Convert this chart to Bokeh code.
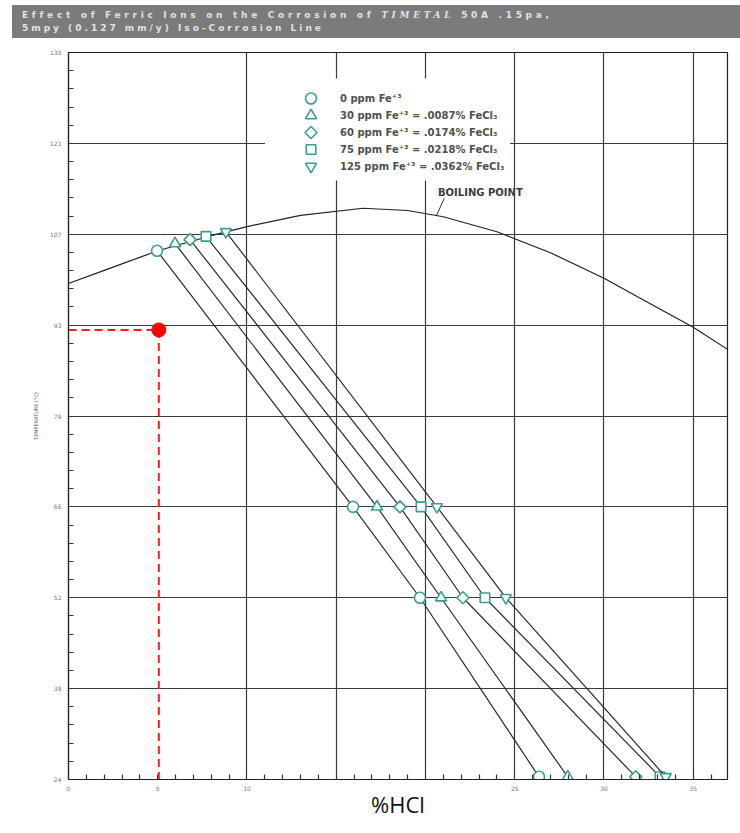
import numpy as np
from bokeh.plotting import figure
from bokeh.models import (Range1d, FixedTicker, BoxAnnotation, Label, Div)
from bokeh.layouts import column
from bokeh.embed import file_html
from bokeh.resources import INLINE

# ---------------- data ----------------
series_labels = ["0 ppm Fe⁺³",
                 "30 ppm Fe⁺³ = .0087% FeCl₃",
                 "60 ppm Fe⁺³ = .0174% FeCl₃",
                 "75 ppm Fe⁺³ = .0218% FeCl₃",
                 "125 ppm Fe⁺³ = .0362% FeCl₃"]
# %HCl where each iso-corrosion line meets the boiling point curve
hcl_boil = [4.96, 5.97, 6.81, 7.70, 8.82]
temp_boil = [104.7, 105.8, 106.4, 106.9, 107.6]
# %HCl at 66, 52 and 24 degC
hcl_66 = [15.94, 17.28, 18.57, 19.75, 20.64]
hcl_52 = [19.69, 20.87, 22.10, 23.33, 24.50]
hcl_24 = [26.36, 27.97, 31.78, 33.14, 33.46]
iso_temps = [65.56, 51.67, 24.3]

# boiling point curve
bp_hcl = [0, 2, 5, 8, 10, 13, 16.5, 19, 21, 24, 27, 30, 33, 35, 37]
bp_temp = [99.7, 101.7, 104.7, 107.0, 108.4, 110.1, 111.2, 110.85, 109.9,
           107.6, 104.4, 100.5, 96.0, 93.0, 89.5]

# example reading (red)
example_hcl = 5.06
example_temp = 92.6

x_ticks = [0, 5, 10, 15, 20, 25, 30, 35]
x_tick_labels = ["0", "5", "10", "", "", "25", "30", "35"]
x_grid = [10, 15, 20, 25, 30, 35]
y_ticks = [23.89, 37.78, 51.67, 65.56, 79.44, 93.33, 107.22, 121.11, 135.0]
y_tick_labels = ["24", "38", "52", "66", "79", "93", "107", "121", "135"]

# boiling point annotation
bp_label_x, bp_label_y = 20.7, 113.6
bp_leader = ([20.62], [110.1], [21.05], [112.7])

# ---------------- layout / styles ----------------
teal = "#3a9f8b"
marker_styles = [("circle", 0.0, 11), ("triangle", 0.0, 11), ("square", np.pi / 4, 8.5),
                 ("square", 0.0, 9.5), ("inverted_triangle", 0.0, 11)]
FRAME_W, FRAME_H = 659, 727
X_MAX = 36.92

p = figure(width=740, height=795, x_range=Range1d(0, X_MAX),
           y_range=Range1d(y_ticks[0], y_ticks[-1]),
           output_backend="svg", toolbar_location=None,
           min_border_left=68, min_border_right=13, min_border_top=14, min_border_bottom=54,
           background_fill_color="white", border_fill_color="white")

p.outline_line_color = "#222222"
p.outline_line_width = 1.2

# axes
x_minor = [v for v in range(0, 37) if v % 5 != 0]
p.xaxis.ticker = FixedTicker(ticks=x_ticks, minor_ticks=x_minor)
p.xaxis.major_label_overrides = {t: l for t, l in zip(x_ticks, x_tick_labels)}
y_minor = []
for a, b in zip(y_ticks[:-1], y_ticks[1:]):
    y_minor += list(np.linspace(a, b, 6)[1:-1])
p.yaxis.ticker = FixedTicker(ticks=y_ticks, minor_ticks=y_minor)
p.yaxis.major_label_overrides = {t: l for t, l in zip(y_ticks, y_tick_labels)}

for ax in (p.xaxis[0], p.yaxis[0]):
    ax.axis_line_color = "#222222"
    ax.axis_line_width = 1.2
    ax.major_tick_in = 5
    ax.major_tick_out = 0
    ax.minor_tick_in = 5
    ax.minor_tick_out = 0
    ax.major_tick_line_color = "#333333"
    ax.minor_tick_line_color = "#333333"
    ax.minor_tick_line_width = 1.2
    ax.major_label_text_font = "DejaVu Sans"
    ax.major_label_text_font_size = "6px"
    ax.major_label_text_color = "#777777"
p.yaxis.major_tick_in = 0
p.xaxis.major_label_standoff = 6
p.yaxis.major_label_standoff = 7
p.yaxis.axis_label = "TEMPERATURE (°C)"
p.yaxis.axis_label_text_font = "DejaVu Sans"
p.yaxis.axis_label_text_font_size = "5px"
p.yaxis.axis_label_text_font_style = "normal"
p.yaxis.axis_label_text_color = "#555555"
p.yaxis.axis_label_standoff = 8
p.xaxis.axis_label = "%HCl"
p.xaxis.axis_label_text_font = "Open Sans"
p.xaxis.axis_label_text_font_size = "22px"
p.xaxis.axis_label_text_font_style = "normal"
p.xaxis.axis_label_text_color = "#111111"
p.xaxis.axis_label_standoff = -5

# grid
p.xgrid.ticker = FixedTicker(ticks=x_grid)
p.ygrid.ticker = FixedTicker(ticks=y_ticks)
for g in (p.xgrid[0], p.ygrid[0]):
    g.grid_line_color = "#3a3a3a"
    g.grid_line_width = 1.2

# boiling point curve
p.line(bp_hcl, bp_temp, line_color="#222222", line_width=1.2)

# iso-corrosion lines and markers
for i, lab in enumerate(series_labels):
    xs = [hcl_boil[i], hcl_66[i], hcl_52[i], hcl_24[i]]
    ys = [temp_boil[i]] + iso_temps
    p.line(xs, ys, line_color="#2a2a2a", line_width=1.2)
    mk, ang, sz = marker_styles[i]
    p.scatter(xs, ys, marker=mk, angle=ang, size=sz, fill_color="white",
              line_color=teal, line_width=1.6)

# red example reading
p.line([0, example_hcl], [example_temp, example_temp], line_color="#ff1a1a",
       line_width=2, line_dash="8 5")
p.line([example_hcl, example_hcl], [example_temp, y_ticks[0]], line_color="#ff1a1a",
       line_width=2, line_dash="8 5")
p.scatter([example_hcl], [example_temp], marker="circle", size=14,
          fill_color="#ff0000", line_color="#ff0000")

# boiling point label
p.segment(*bp_leader, line_color="#333333", line_width=1)
p.add_layout(Label(x=bp_label_x, y=bp_label_y, text="BOILING POINT",
                   text_font="DejaVu Sans", text_font_size="10px", text_font_style="bold",
                   text_color="#3a3a4a", text_baseline="middle"))

# ---------------- legend (drawn by hand) ----------------
p.add_layout(BoxAnnotation(left=196.5, right=441.5, bottom=599, top=701,
                           left_units="screen", right_units="screen",
                           bottom_units="screen", top_units="screen",
                           fill_color="white", fill_alpha=1.0, line_color=None,
                           level="underlay"))
LEG_MARK_SX = 242.5          # screen px from frame left
LEG_TEXT_SX = 271.5
LEG_TOP_SY = 681             # screen px from frame bottom (first row)
LEG_PITCH = 17
for i, lab in enumerate(series_labels):
    sy = LEG_TOP_SY - i * LEG_PITCH
    mx = LEG_MARK_SX / FRAME_W * X_MAX
    my = y_ticks[0] + sy / FRAME_H * (y_ticks[-1] - y_ticks[0])
    mk, ang, sz = marker_styles[i]
    p.scatter([mx], [my], marker=mk, angle=ang, size=sz, fill_color="white",
              line_color=teal, line_width=1.6, level="overlay")
    p.add_layout(Label(x=LEG_TEXT_SX, y=sy, x_units="screen", y_units="screen", text=lab,
                       text_font="DejaVu Sans", text_font_size="10px",
                       text_font_style="bold", text_color="#505050",
                       text_baseline="middle"))

title_html = ("<span style=\"letter-spacing:3.7px;\">Effect of Ferric Ions on the Corrosion of "
              "<i style=\"font-family:'DejaVu Serif';\">TIMETAL</i> 50A .15pa,</span><br>"
              "5mpy (0.127 mm/y) Iso-Corrosion Line")
div = Div(text=title_html, width=728, height=33, margin=(5, 0, 0, 12),
          styles={"background-color": "#7b7b7b", "color": "#e2e2e2",
                  "font-family": "DejaVu Sans", "font-weight": "bold",
                  "font-size": "9px", "letter-spacing": "3px",
                  "line-height": "13px", "padding": "4px 0px 0px 10px",
                  "box-sizing": "border-box"})

layout = column(div, p)
open("out.html", "w").write(file_html(layout, INLINE))
